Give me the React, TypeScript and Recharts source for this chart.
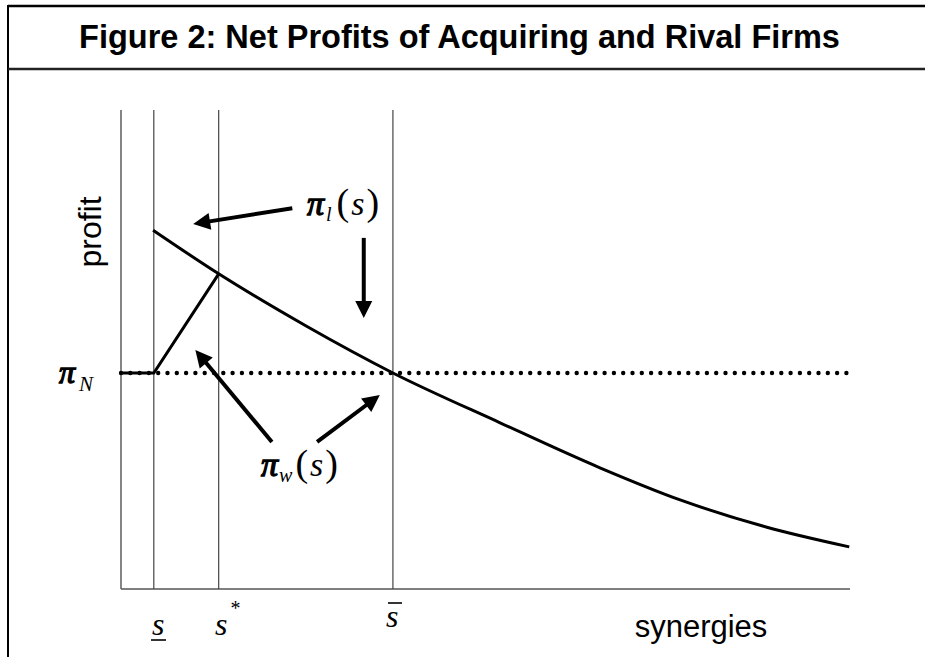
import { ComposedChart, Line, XAxis, YAxis, ReferenceLine } from 'recharts';

// synergies axis runs 0..100, profit axis runs 0..100 (arbitrary units)
const curveS = [4.4, 13.4, 25.4, 37.3, 52.0, 65.7, 76.7, 88.6, 99.9];
const curveProfit = [74.9, 65.8, 54.9, 45.1, 34.7, 25.3, 18.6, 12.9, 8.8];

const piN = 45.1;
const sLower = 4.5;
const sStar = 13.4;
const sBar = 37.3;

const winnerS = [0, sLower, sStar];
const winnerProfit = [piN, piN, 65.8];

// annotation arrows: [tailS, tailProfit, tipS, tipProfit]
const arrows = [
  [23.5, 79.5, 9.9, 76.2],
  [33.3, 73.3, 33.3, 56.6],
  [20.7, 30.7, 10.2, 49.9],
  [26.9, 30.7, 35.5, 40.5],
];

const loserData = curveS.map((s, i) => ({ s, v: curveProfit[i] }));
const winnerData = winnerS.map((s, i) => ({ s, v: winnerProfit[i] }));

const Arrow = (props: any) => {
  const { x1, y1, x2, y2 } = props;
  const dx = x2 - x1;
  const dy = y2 - y1;
  const len = Math.sqrt(dx * dx + dy * dy);
  const ux = dx / len;
  const uy = dy / len;
  const headLen = 17;
  const headHalf = 8.5;
  const bx = x2 - ux * headLen;
  const by = y2 - uy * headLen;
  const p1 = `${bx - uy * headHalf},${by + ux * headHalf}`;
  const p2 = `${bx + uy * headHalf},${by - ux * headHalf}`;
  return (
    <g>
      <line x1={x1} y1={y1} x2={bx + ux * 2} y2={by + uy * 2} stroke="#000" strokeWidth={4} />
      <polygon points={`${x2},${y2} ${p1} ${p2}`} fill="#000" />
    </g>
  );
};

const serif = '"Liberation Serif", "Times New Roman", serif';
const sans = '"Liberation Sans", Arial, sans-serif';

const Pi = () => (
  <tspan stroke="#000" strokeWidth={1.3}>π</tspan>
);

export default function App() {
  return (
    <div style={{ position: 'absolute', left: 0, top: 0, width: 925, height: 657, background: '#fff' }}>
      <ComposedChart
        width={925}
        height={657}
        margin={{ top: 110, right: 75, bottom: 68, left: 121 }}
      >
        <XAxis
          type="number"
          dataKey="s"
          domain={[0, 100]}
          height={0}
          tick={false}
          tickLine={false}
          axisLine={false}
          allowDataOverflow
        />
        <YAxis
          type="number"
          dataKey="v"
          domain={[0, 100]}
          width={0}
          tick={false}
          tickLine={false}
          axisLine={false}
          allowDataOverflow
        />
        <ReferenceLine x={0} stroke="#444" strokeWidth={1.3} />
        <ReferenceLine y={0} stroke="#555" strokeWidth={1.6} />
        <ReferenceLine x={sLower} stroke="#444" strokeWidth={1.2} />
        <ReferenceLine x={sStar} stroke="#444" strokeWidth={1.2} />
        <ReferenceLine x={sBar} stroke="#444" strokeWidth={1.2} />
        <ReferenceLine
          y={piN}
          stroke="#000"
          strokeWidth={4.4}
          strokeDasharray="0 9.3"
          strokeLinecap="round"
        />
        <Line
          data={loserData}
          dataKey="v"
          type="monotone"
          stroke="#000"
          strokeWidth={3}
          dot={false}
          isAnimationActive={false}
        />
        <Line
          data={winnerData}
          dataKey="v"
          type="linear"
          stroke="#000"
          strokeWidth={3}
          dot={false}
          isAnimationActive={false}
        />
        {arrows.map((a, i) => (
          <ReferenceLine
            key={i}
            segment={[{ x: a[0], y: a[1] }, { x: a[2], y: a[3] }]}
            shape={Arrow}
          />
        ))}
      </ComposedChart>
      <svg
        width={925}
        height={657}
        style={{ position: 'absolute', left: 0, top: 0, pointerEvents: 'none' }}
      >
        <line x1={8} y1={6} x2={925} y2={6} stroke="#000" strokeWidth={2.5} />
        <line x1={8} y1={5} x2={8} y2={657} stroke="#000" strokeWidth={2} />
        <line x1={8} y1={69} x2={925} y2={69} stroke="#222" strokeWidth={2.5} />
        <text x={459.5} y={48} textAnchor="middle" fontFamily={sans} fontWeight="bold" fontSize={32.5}>
          Figure 2: Net Profits of Acquiring and Rival Firms
        </text>
        <text
          transform="translate(101,232) rotate(-90)"
          textAnchor="middle"
          fontFamily={sans}
          fontSize={32}
        >
          profit
        </text>
        <text x={701} y={637} textAnchor="middle" fontFamily={sans} fontSize={31}>
          synergies
        </text>
        <text x={59} y={383} fontFamily={serif} fontStyle="italic" fontSize={32}>
          <Pi />
          <tspan fontSize={21} dy={8} dx={4}>N</tspan>
        </text>
        <text x={307} y={215} fontFamily={serif} fontStyle="italic" fontSize={34}>
          <Pi />
          <tspan fontSize={20} dy={6} dx={2}>l</tspan>
          <tspan dy={-6} dx={5} fontStyle="normal" fontSize={38}>(</tspan>
          <tspan fontSize={34} dx={2}>s</tspan>
          <tspan fontStyle="normal" fontSize={38} dx={2}>)</tspan>
        </text>
        <text x={261} y={476} fontFamily={serif} fontStyle="italic" fontSize={34}>
          <Pi />
          <tspan fontSize={20} dy={6} dx={1}>w</tspan>
          <tspan dy={-6} dx={3} fontStyle="normal" fontSize={38}>(</tspan>
          <tspan fontSize={34} dx={2}>s</tspan>
          <tspan fontStyle="normal" fontSize={38} dx={2}>)</tspan>
        </text>
        <text x={152} y={635} fontFamily={serif} fontStyle="italic" fontSize={32}>
          s
        </text>
        <line x1={151} y1={640} x2={166} y2={640} stroke="#000" strokeWidth={1.6} />
        <text x={215} y={635} fontFamily={serif} fontStyle="italic" fontSize={32}>
          s<tspan fontStyle="normal" fontSize={20} dy={-20} dx={3}>*</tspan>
        </text>
        <text x={386} y={627} fontFamily={serif} fontStyle="italic" fontSize={32}>
          s
        </text>
        <line x1={388} y1={603} x2={402} y2={603} stroke="#000" strokeWidth={1.6} />
      </svg>
    </div>
  );
}
